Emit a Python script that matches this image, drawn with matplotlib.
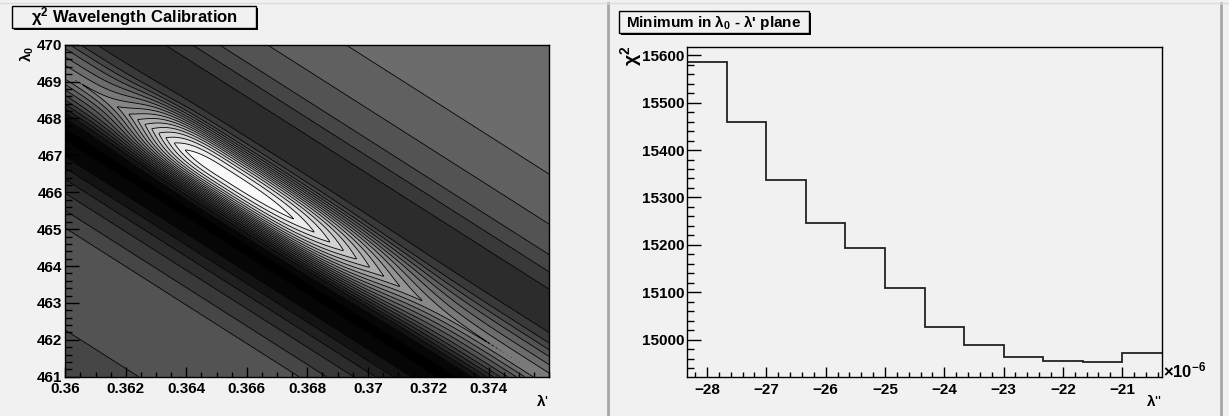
import numpy as np
import matplotlib
matplotlib.use("Agg")
import matplotlib.pyplot as plt
from matplotlib.patches import Rectangle
from matplotlib.lines import Line2D
from matplotlib.ticker import MultipleLocator

W, H = 1229, 416
BG = "#f1f1f1"

# right pad: minimum chi2 for each lambda'' bin (x 1e-6)
lam2_edges = [-28.333, -27.667, -27.0, -26.333, -25.667, -25.0, -24.333,
              -23.667, -23.0, -22.333, -21.667, -21.0, -20.333]
chi2_min = [15585, 15459, 15337, 15247, 15194, 15109, 15027,
            14989, 14963, 14956, 14953, 14973]

# left pad: chi2 surface, described by a valley line and its cross profile
lam1_range = (0.36, 0.376)
lam0_range = (461.0, 470.0)
ridge_start = (0.3603, 468.4)     # left tip of the bright valley
ridge_end = (0.3741, 461.2)       # right tip
ridge_center = (0.3652, 466.5)    # innermost (white) contour
ridge_amp = 0.50
ridge_width_u = (95.0, 180.0)     # along the valley, left / right of centre (frame px)
ridge_width_v = 28.0              # across the valley (frame px)
# grey level across the valley, v in frame px (positive = upper right)
prof_v = [-420, -260, -190, -130, -95, -68, -50, -36, -20, 0, 20, 36, 52, 78, 110, 150, 200, 260, 330, 420]
prof_g = [0.27, 0.25, 0.33, 0.30, 0.18, 0.04, -0.02, 0.06, 0.28, 0.50, 0.36, 0.22, 0.16, 0.20, 0.31, 0.38, 0.42, 0.44, 0.42, 0.40]

plt.rcParams["font.family"] = ["Liberation Sans", "DejaVu Sans"]
plt.rcParams["font.weight"] = "bold"
plt.rcParams["mathtext.fontset"] = "custom"
plt.rcParams["mathtext.rm"] = "Liberation Sans"
plt.rcParams["mathtext.bf"] = "Liberation Sans:bold"
plt.rcParams["mathtext.it"] = "Liberation Sans:italic"


def fx(p):
    return p / W


def fy(p):
    return 1 - p / H


fig = plt.figure(figsize=(W / 100, H / 100), dpi=100, facecolor=BG)


def style_axis(ax, xmaj, xmin, ymaj, ymin, xlen, ylen):
    ax.set_facecolor(BG)
    ax.xaxis.set_major_locator(MultipleLocator(xmaj))
    ax.xaxis.set_minor_locator(MultipleLocator(xmin))
    ax.yaxis.set_major_locator(MultipleLocator(ymaj))
    ax.yaxis.set_minor_locator(MultipleLocator(ymin))
    ax.tick_params(which="both", direction="in", top=False, right=False, width=1, colors="k")
    ax.tick_params(axis="x", which="major", length=xlen, pad=4, labelsize=11)
    ax.tick_params(axis="x", which="minor", length=xlen / 2)
    ax.tick_params(axis="y", which="major", length=ylen, pad=2, labelsize=11)
    ax.tick_params(axis="y", which="minor", length=ylen / 2)
    for lab in ax.get_xticklabels() + ax.get_yticklabels():
        lab.set_fontweight("bold")
    for s in ax.spines.values():
        s.set_linewidth(1)
        s.set_zorder(5)


# ---------------- left pad: contour ----------------
ax1 = fig.add_axes([fx(65.3), fy(376.7), fx(549.3 - 65.3), (376.7 - 44.7) / H])
fw, fh = 484.0, 332.0
gx = np.linspace(*lam1_range, 500)
gy = np.linspace(*lam0_range, 400)
x, y = np.meshgrid(gx, gy)


def to_px(xv, yv):
    return ((xv - lam1_range[0]) / (lam1_range[1] - lam1_range[0]) * fw,
            (yv - lam0_range[0]) / (lam0_range[1] - lam0_range[0]) * fh)


px, py = to_px(x, y)
sx, sy = to_px(*ridge_start)
ex, ey = to_px(*ridge_end)
cx, cy = to_px(*ridge_center)
d = np.array([ex - sx, ey - sy])
d /= np.hypot(*d)
u = (px - cx) * d[0] + (py - cy) * d[1]
v = -(px - cx) * d[1] + (py - cy) * d[0]
su = np.where(u < 0, ridge_width_u[0], ridge_width_u[1])
z = np.interp(v, prof_v, prof_g) + ridge_amp * np.exp(-np.abs(u / su) ** 3 - np.abs(v / ridge_width_v) ** 3)

levels = np.linspace(0, 1, 21)
ax1.contourf(x, y, z, levels=levels, cmap="gray", vmin=0, vmax=1, extend="both")
ax1.contour(x, y, z, levels=levels, colors="k", linewidths=0.6)
ax1.set_xlim(*lam1_range)
ax1.set_ylim(*lam0_range)
style_axis(ax1, 0.002, 0.0005, 1, 0.2, 7.2, 10.4)
ax1.set_xticks([0.36, 0.362, 0.364, 0.366, 0.368, 0.37, 0.372, 0.374])
ax1.set_xticklabels(["0.36", "0.362", "0.364", "0.366", "0.368", "0.37", "0.372", "0.374"],
                    fontweight="bold")

# ---------------- right pad: histogram ----------------
ax2 = fig.add_axes([fx(687.3), fy(377), fx(1161.7 - 687.3), (377 - 47.3) / H])
ax2.stairs(chi2_min, lam2_edges, color="#222222", linewidth=1.3, baseline=None)
lo, hi = min(chi2_min), max(chi2_min)
ax2.set_xlim(lam2_edges[0], lam2_edges[-1])
ax2.set_ylim(lo - 0.05 * (hi - lo), hi + 0.05 * (hi - lo))
style_axis(ax2, 1, 0.2, 100, 20, 7.2, 10.2)

# ---------------- text ----------------
fig.text(fx(27), fy(46), r"$\mathrm{\lambda}_{\mathbf{0}}$", rotation=90, ha="center", va="top", fontsize=11)
fig.text(fx(549), fy(401), r"$\mathrm{\lambda}$'", ha="right", va="center", fontsize=11, fontweight="normal")
fig.text(fx(631), fy(46), r"$\mathrm{\chi}^{\mathbf{2}}$", rotation=90, ha="center", va="top", fontsize=14)
fig.text(fx(1162), fy(401), r"$\mathrm{\lambda}$''", ha="right", va="center", fontsize=11, fontweight="normal")
fig.text(fx(1163), fy(370), r"$\mathregular{\times}$10$^{\mathbf{-6}}$", ha="left", va="center", fontsize=12)


def title_box(x0, y0, x1, y1, text, size):
    sh = Rectangle((fx(x0 + 2), fy(y1 + 2)), fx(x1 - x0), (y1 - y0) / H,
                   transform=fig.transFigure, facecolor="k", edgecolor="k", lw=0)
    box = Rectangle((fx(x0), fy(y1)), fx(x1 - x0), (y1 - y0) / H,
                    transform=fig.transFigure, facecolor=BG, edgecolor="k", lw=1)
    fig.add_artist(sh)
    fig.add_artist(box)
    fig.text(fx((x0 + x1) / 2), fy((y0 + y1) / 2), text, ha="center", va="center",
             fontsize=size, fontweight="bold")


title_box(12, 6, 256, 28, r"$\mathrm{\chi}^{\mathbf{2}}$ Wavelength Calibration", 12)
title_box(619, 11, 809, 33, r"Minimum in $\mathrm{\lambda}_{\mathbf{0}}$ - $\mathrm{\lambda}$' plane", 11)

# pad borders
for xp in (608, 1221):
    fig.add_artist(Line2D([fx(xp), fx(xp)], [fy(3), fy(416)], transform=fig.transFigure,
                          color="#a8a8a8", lw=2))
fig.add_artist(Line2D([0, 1], [fy(3), fy(3)], transform=fig.transFigure, color="#dcdcdc", lw=1))

fig.savefig("out.png", dpi=100, facecolor=BG)
